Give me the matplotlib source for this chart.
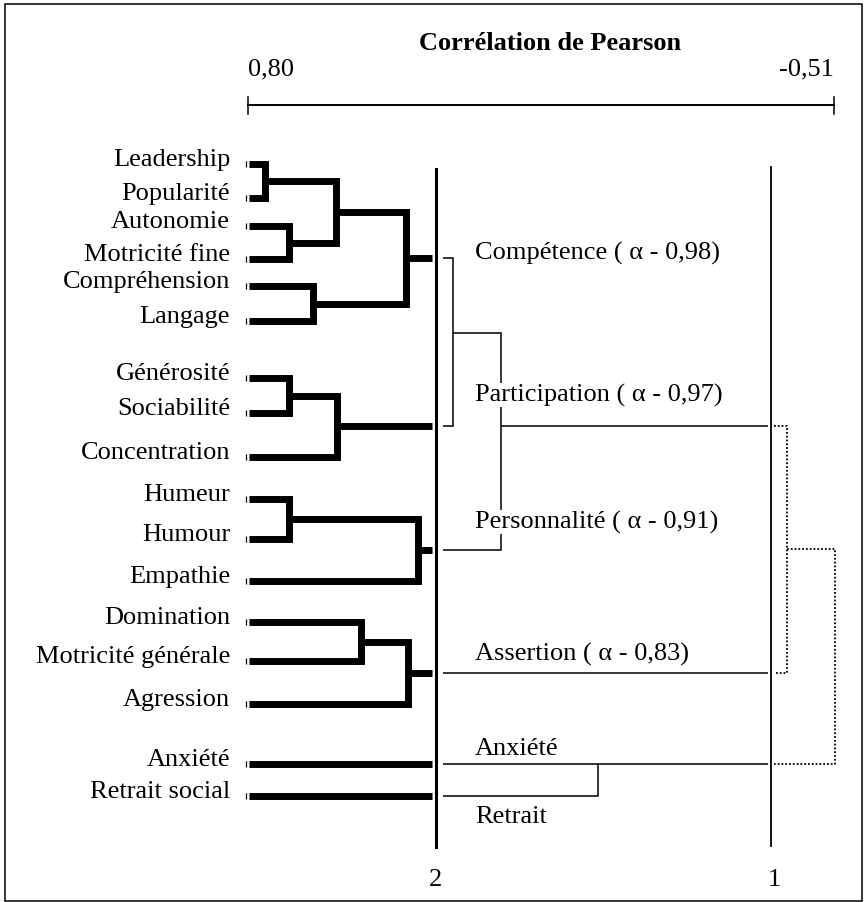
import matplotlib.pyplot as plt
from matplotlib.patches import Rectangle

plt.rcParams['font.family'] = ['Liberation Serif', 'DejaVu Serif']

# leaves, top to bottom
labels = ['Leadership', 'Popularité', 'Autonomie', 'Motricité fine', 'Compréhension',
          'Langage', 'Générosité', 'Sociabilité', 'Concentration', 'Humeur', 'Humour',
          'Empathie', 'Domination', 'Motricité générale', 'Agression', 'Anxiété',
          'Retrait social']
leaf_pos = [165, 199, 227, 260, 287, 322, 379, 414, 458, 500, 540, 582,
            623, 662, 705, 765, 797]

# merges on the Pearson scale (a, b, r); new nodes numbered from 17
links = [(0, 1, 0.762), (2, 3, 0.708), (17, 18, 0.603), (4, 5, 0.655),
         (19, 20, 0.447), (6, 7, 0.708), (22, 8, 0.601), (9, 10, 0.708),
         (24, 11, 0.420), (12, 13, 0.547), (26, 14, 0.442)]

# second level: the six factors
factors = ['Compétence ( α - 0,98)', 'Participation ( α - 0,97)',
           'Personnalité ( α - 0,91)', 'Assertion ( α - 0,83)', 'Anxiété', 'Retrait']
factor_nodes = [21, 23, 25, 27, 15, 16]
factor_links = [(0, 1, 0.342), (6, 2, 0.234), (4, 5, 0.018)]  # new nodes from 6
factor_link_pos = [334, 427, 765]
factor_roots = [7, 3, 8]

# third level (dotted)
top_links = [(7, 3, -0.405), (9, 8, -0.512)]

r_left, r_right = 0.80, -0.51
cut2, cut1 = 0.380, -0.369

fig = plt.figure(figsize=(8.64, 9.03), dpi=100)
ax = fig.add_axes([0, 0, 1, 1])
ax.set_xlim(1.3544, -0.5771)
ax.set_ylim(903, 0)
ax.set_axis_off()

fs = 19
thick = dict(color='k', lw=5, solid_joinstyle='miter', solid_capstyle='butt')
thin = dict(color='k', lw=1.1, solid_joinstyle='miter', solid_capstyle='butt')
dotted = dict(color='k', lw=1.3, ls=(0, (1, 1.1)))

# title and scale
ax.text(0.125, 50, 'Corrélation de Pearson', ha='center', va='baseline',
        fontsize=fs, fontweight='bold')
ax.text(r_left, 75, '0,80', ha='left', va='baseline', fontsize=fs)
ax.text(r_right, 75, '-0,51', ha='right', va='baseline', fontsize=fs)
ax.plot([r_left, r_right], [106, 106], color='k', lw=1.4)
ax.plot([r_left, r_left], [98, 115], color='k', lw=1.1)
ax.plot([r_right, r_right], [98, 115], color='k', lw=1.1)

# thick dendrogram
ypos = dict(enumerate(leaf_pos))
hgt = {i: 0.798 for i in range(len(labels))}
for k, (a, b, h) in enumerate(links):
    ax.plot([hgt[a], h, h, hgt[b]], [ypos[a], ypos[a], ypos[b], ypos[b]], **thick)
    n = len(labels) + k
    ypos[n] = (ypos[a] + ypos[b]) / 2
    hgt[n] = h
for n in factor_nodes:
    ax.plot([hgt[n], 0.389], [ypos[n], ypos[n]], **thick)

ax.plot([0.805] * len(labels), leaf_pos, '|', color='k', ms=5, mew=0.9)
for lab, y in zip(labels, leaf_pos):
    ax.text(0.840, y + 1, lab, ha='right', va='baseline', fontsize=fs)

# cut lines
ax.plot([cut2, cut2], [170, 848], color='k', lw=2.2)
ax.plot([cut1, cut1], [168, 847], color='k', lw=1.3)
ax.text(cut2, 886, '2', ha='center', va='baseline', fontsize=fs)
ax.text(cut1 - 0.008, 886, '1', ha='center', va='baseline', fontsize=fs)

# thin dendrogram between the cuts
fy = [ypos[n] for n in factor_nodes]
fh = [0.364] * len(factors)
for k, (a, b, h) in enumerate(factor_links):
    ax.plot([fh[a], h, h, fh[b]], [fy[a], fy[a], fy[b], fy[b]], **thin)
    fy.append(factor_link_pos[k])
    fh.append(h)
for n in factor_roots:
    ax.plot([fh[n], -0.363], [fy[n], fy[n]], **thin)

factor_text_y = [260, 402, 529, 661, 755, 823]
for name, y in zip(factors, factor_text_y):
    ax.text(0.2925, y, name, ha='left', va='baseline', fontsize=fs, zorder=5,
            bbox=dict(facecolor='white', edgecolor='none', pad=0.5))

# dotted top level
dy = list(fy)
dh = [-0.376] * len(fy)
for a, b, h in top_links:
    ax.plot([dh[a], h, h, dh[b]], [dy[a], dy[a], dy[b], dy[b]], **dotted)
    dy.append((dy[a] + dy[b]) / 2)
    dh.append(h)

ax.add_patch(Rectangle((0.006, 0.0011), 0.9917, 0.9934, transform=ax.transAxes,
                       fill=False, lw=1.1, edgecolor='k'))

fig.savefig('out.png', dpi=100)
